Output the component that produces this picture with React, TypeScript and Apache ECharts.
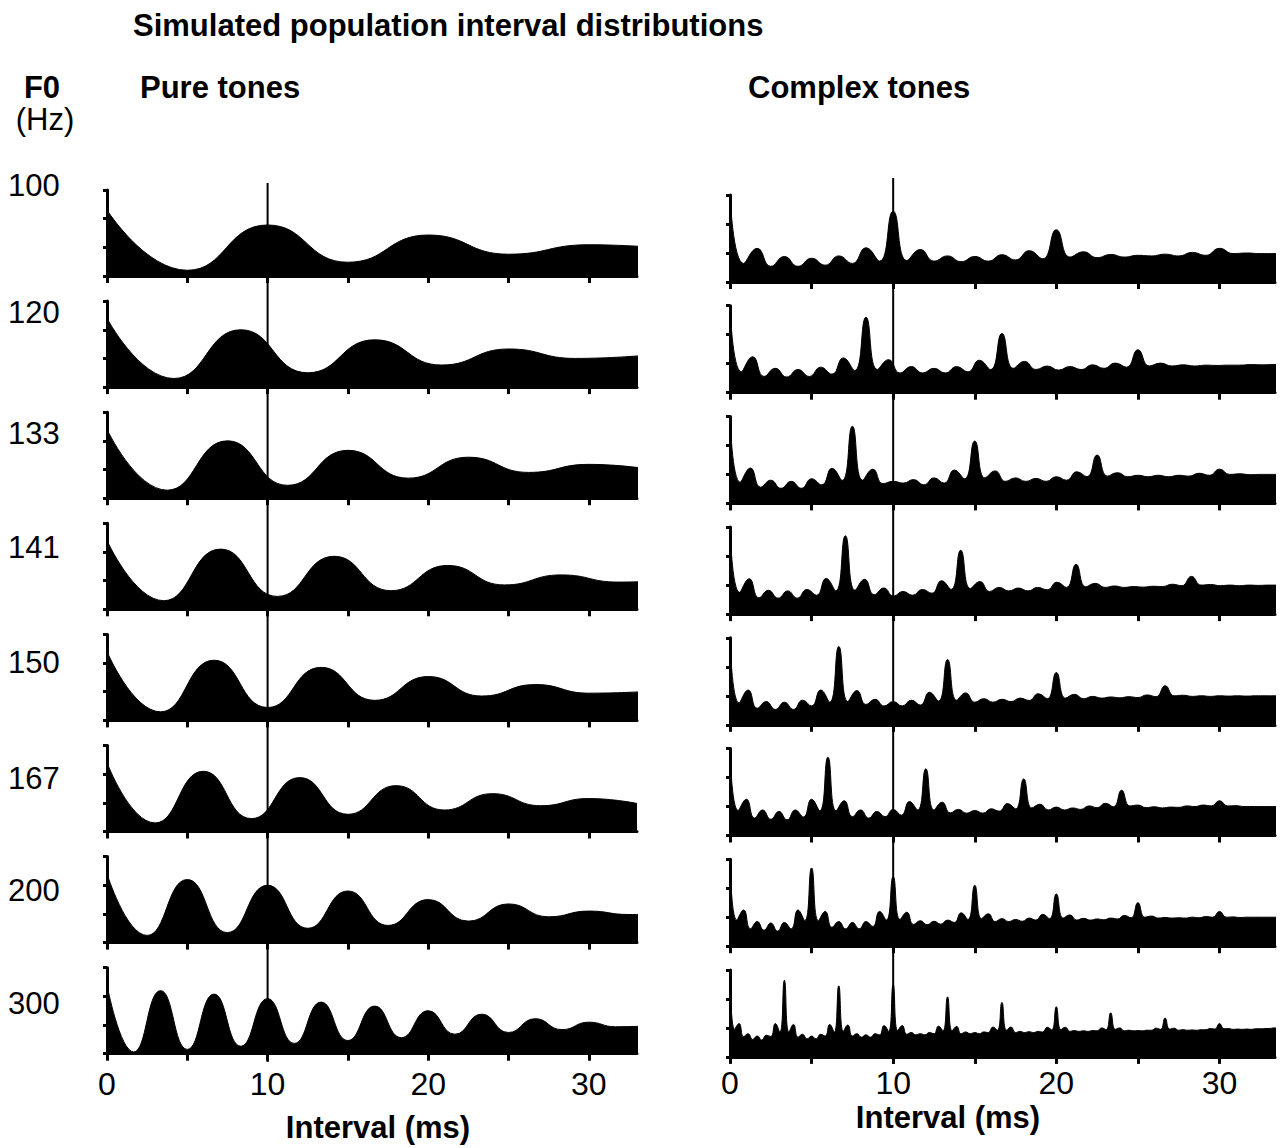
import React, { useEffect, useRef } from "react";
import * as echarts from "echarts";

// ---------------- DATA ----------------
const F0_LABELS = ["100", "120", "133", "141", "150", "167", "200", "300"];
// period of each F0 in ms
const PERIODS_MS = [10, 8.333, 7.5, 7.07, 6.667, 6, 5, 3.333];

// Pure tones: values read at every half period (0, T/2, T, 3T/2, ...)
const PURE_100 = [2.3, 0.2, 1.78, 0.48, 1.43, 0.76, 1.09, 0.96];
const PURE_120 = [2.4, 0.3, 2.0, 0.5, 1.65, 0.77, 1.33, 1.0, 1.1];
const PURE_133 = [2.4, 0.28, 2.0, 0.45, 1.67, 0.7, 1.43, 0.9, 1.18, 1.02];
const PURE_141 = [2.4, 0.3, 2.1, 0.45, 1.85, 0.65, 1.53, 0.85, 1.2, 0.95, 1.0];
const PURE_150 = [2.4, 0.3, 2.1, 0.45, 1.85, 0.7, 1.53, 0.85, 1.25, 0.95, 1.0];
const PURE_167 = [2.4, 0.3, 2.1, 0.45, 1.88, 0.6, 1.6, 0.75, 1.32, 0.9, 1.15, 0.98];
const PURE_200 = [2.4, 0.25, 2.2, 0.35, 2.0, 0.5, 1.8, 0.6, 1.5, 0.75, 1.35, 0.9, 1.1, 0.98, 1.0];
const PURE_300 = [2.4, 0.06, 2.2, 0.15, 2.08, 0.26, 1.92, 0.36, 1.8, 0.46, 1.66, 0.56, 1.5, 0.68, 1.38, 0.74, 1.22, 0.84, 1.1, 0.94, 0.96];

// Complex tones: one row per period, values read at every T/12 step
const COMPLEX_100 = [
  [3.0, 0.64, 1.16, 0.54, 0.88, 0.54, 0.82, 0.58, 0.9, 0.64, 1.18, 0.72],
  [2.44, 0.74, 1.12, 0.72, 0.9, 0.7, 0.88, 0.72, 0.94, 0.76, 1.08, 0.8],
  [1.8, 0.86, 1.04, 0.84, 0.95, 0.86, 0.92, 0.9, 0.96, 0.9, 1.02, 0.92],
  [1.16, 0.98, 1.0, 0.98, 0.98, 0.98],
];
const COMPLEX_120 = [
  [3.0, 0.72, 1.24, 0.56, 0.84, 0.54, 0.8, 0.56, 0.88, 0.64, 1.2, 0.76],
  [2.6, 0.8, 1.14, 0.68, 0.9, 0.68, 0.84, 0.68, 0.9, 0.72, 1.12, 0.8],
  [2.04, 0.84, 1.08, 0.8, 0.92, 0.78, 0.9, 0.8, 0.96, 0.84, 1.02, 0.88],
  [1.48, 0.92, 1.02, 0.92, 0.96, 0.92, 0.95, 0.94, 0.95, 0.95, 0.97, 0.96],
  [0.97, 0.97],
];
const COMPLEX_133 = [
  [3.0, 0.73, 1.22, 0.56, 0.8, 0.52, 0.76, 0.52, 0.85, 0.64, 1.21, 0.79],
  [2.66, 0.8, 1.18, 0.68, 0.76, 0.7, 0.82, 0.64, 0.88, 0.7, 1.15, 0.85],
  [2.15, 0.88, 1.12, 0.76, 0.88, 0.76, 0.86, 0.76, 0.92, 0.8, 1.09, 0.92],
  [1.67, 0.94, 1.06, 0.92, 0.97, 0.92, 0.97, 0.92, 0.97, 0.94, 1.04, 0.97],
  [1.18, 1.0, 1.02, 0.99, 1.0, 1.0, 1.0],
];
const COMPLEX_141 = [
  [3.0, 0.75, 1.22, 0.56, 0.82, 0.55, 0.8, 0.55, 0.85, 0.65, 1.23, 0.8],
  [2.7, 0.82, 1.2, 0.67, 0.9, 0.62, 0.78, 0.65, 0.85, 0.72, 1.15, 0.85],
  [2.2, 0.88, 1.12, 0.78, 0.92, 0.8, 0.9, 0.8, 0.92, 0.84, 1.1, 0.92],
  [1.72, 0.94, 1.06, 0.92, 0.97, 0.92, 0.95, 0.93, 0.96, 0.95, 1.03, 0.98],
  [1.3, 1.0, 1.02, 0.98, 1.0, 0.98, 1.0, 0.99, 1.0, 1.0],
];
const COMPLEX_150 = [
  [3.0, 0.75, 1.2, 0.57, 0.8, 0.53, 0.78, 0.53, 0.85, 0.65, 1.2, 0.78],
  [2.7, 0.8, 1.18, 0.7, 0.88, 0.65, 0.8, 0.65, 0.85, 0.68, 1.12, 0.82],
  [2.25, 0.85, 1.1, 0.78, 0.9, 0.78, 0.88, 0.8, 0.92, 0.84, 1.07, 0.9],
  [1.8, 0.92, 1.05, 0.9, 0.98, 0.92, 0.96, 0.93, 0.97, 0.94, 1.03, 0.97],
  [1.35, 1.0, 1.02, 0.98, 1.0, 0.98, 1.0, 0.99, 1.0, 0.99, 1.0, 1.0],
  [1.0, 1.0],
];
const COMPLEX_167 = [
  [3.0, 0.86, 1.25, 0.6, 0.88, 0.56, 0.83, 0.54, 0.88, 0.64, 1.25, 0.85],
  [2.7, 0.85, 1.2, 0.65, 0.88, 0.6, 0.83, 0.65, 0.9, 0.7, 1.17, 0.88],
  [2.3, 0.88, 1.15, 0.78, 0.9, 0.77, 0.86, 0.77, 0.92, 0.84, 1.1, 0.92],
  [1.95, 0.95, 1.08, 0.88, 0.98, 0.88, 0.95, 0.9, 1.02, 0.96, 1.11, 0.99],
  [1.56, 1.02, 1.05, 0.96, 0.99, 0.95, 0.98, 0.97, 1.02, 1.0, 1.05, 1.02],
  [1.2, 1.02, 1.03, 1.0, 1.0, 1.0, 1.0, 1.0],
];
const COMPLEX_200 = [
  [3.0, 0.9, 1.25, 0.6, 0.85, 0.55, 0.8, 0.52, 0.82, 0.6, 1.25, 0.88],
  [2.7, 0.88, 1.2, 0.65, 0.85, 0.6, 0.82, 0.6, 0.85, 0.68, 1.2, 0.9],
  [2.4, 0.92, 1.17, 0.75, 0.88, 0.74, 0.86, 0.76, 0.9, 0.82, 1.15, 0.92],
  [2.1, 0.95, 1.12, 0.85, 0.95, 0.85, 0.92, 0.86, 0.97, 0.9, 1.1, 0.95],
  [1.8, 0.97, 1.08, 0.9, 0.96, 0.9, 0.94, 0.91, 0.97, 0.94, 1.06, 0.98],
  [1.5, 1.0, 1.04, 0.97, 0.99, 0.97, 0.98, 0.97, 1.0, 0.98, 1.02, 1.0],
  [1.2, 1.0, 1.01, 0.99, 1.0, 1.0, 1.0, 1.0, 1.0, 1.0],
];
const COMPLEX_300 = [
  [3.0, 0.95, 1.15, 0.7, 0.8, 0.6, 0.72, 0.58, 0.75, 0.7, 1.15, 0.85],
  [2.64, 0.85, 1.12, 0.68, 0.78, 0.62, 0.72, 0.62, 0.78, 0.72, 1.12, 0.85],
  [2.45, 0.88, 1.1, 0.72, 0.8, 0.68, 0.76, 0.68, 0.8, 0.76, 1.08, 0.88],
  [2.5, 0.9, 1.08, 0.78, 0.84, 0.76, 0.8, 0.76, 0.84, 0.8, 1.06, 0.9],
  [2.07, 0.9, 1.05, 0.8, 0.86, 0.8, 0.84, 0.8, 0.86, 0.84, 1.03, 0.92],
  [1.88, 0.92, 1.03, 0.84, 0.88, 0.84, 0.87, 0.84, 0.88, 0.86, 1.02, 0.93],
  [1.73, 0.94, 1.02, 0.88, 0.91, 0.88, 0.9, 0.88, 0.91, 0.9, 1.0, 0.94],
  [1.52, 0.95, 1.0, 0.9, 0.92, 0.9, 0.91, 0.9, 0.92, 0.92, 0.99, 0.95],
  [1.34, 0.96, 0.99, 0.92, 0.94, 0.92, 0.93, 0.92, 0.94, 0.94, 0.98, 0.96],
  [1.15, 0.97, 0.98, 0.95, 0.96, 0.95, 0.96, 0.95, 0.97, 0.97, 0.98, 0.98],
  [1.0, 1.0],
];

const PURE = [PURE_100, PURE_120, PURE_133, PURE_141, PURE_150, PURE_167, PURE_200, PURE_300];
const COMPLEX = [COMPLEX_100, COMPLEX_120, COMPLEX_133, COMPLEX_141, COMPLEX_150, COMPLEX_167, COMPLEX_200, COMPLEX_300];

const X_TICKS = [0, 5, 10, 15, 20, 25, 30];
const X_LABELS = [0, 10, 20, 30];
const MARKER_MS = 10;

const TITLE = "Simulated population interval distributions";
const LEFT_TITLE = "Pure tones";
const RIGHT_TITLE = "Complex tones";
const X_NAME = "Interval (ms)";

// ---------------- LAYOUT ----------------
const FONT = '"Liberation Sans", Arial, Helvetica, sans-serif';
const L = { x: 107, w: 530, top: 190, pitch: 111.1, h: 86, xmax: 33, labelMargin: 14 };
const R = { x: 730, w: 545, top: 195, pitch: 110.7, h: 87, xmax: 33.4, labelMargin: 10 };
const ROW_LABEL_Y = [185, 312, 433, 547, 662, 778, 890, 1003];

function buildOption() {
  const grid: any[] = [];
  const xAxis: any[] = [];
  const yAxis: any[] = [];
  const series: any[] = [];

  const addPanel = (cfg: any, row: number, data: number[][]) => {
    const idx = grid.length;
    const isBottom = row === 7;
    grid.push({ left: cfg.x, width: cfg.w, top: cfg.top + cfg.pitch * row, height: cfg.h, containLabel: false });
    xAxis.push({
      gridIndex: idx, type: "value", min: 0, max: cfg.xmax,
      axisLine: { show: true, onZero: false, lineStyle: { color: "#000", width: 3 } },
      axisTick: { show: true, length: 7, customValues: X_TICKS, lineStyle: { color: "#000", width: 3 } },
      axisLabel: {
        show: isBottom, customValues: X_LABELS, color: "#000", fontSize: 32, fontFamily: FONT,
        margin: cfg.labelMargin, formatter: (v: number) => String(v),
      },
      splitLine: { show: false },
    });
    yAxis.push({
      gridIndex: idx, type: "value", min: 0, max: 3, interval: 1,
      axisLine: { show: true, lineStyle: { color: "#000", width: 3 } },
      axisTick: { show: true, length: 4, lineStyle: { color: "#000", width: 3 } },
      axisLabel: { show: false },
      splitLine: { show: false },
    });
    series.push({
      type: "line", xAxisIndex: idx, yAxisIndex: idx, data,
      smooth: 0.5, symbol: "none", silent: true, z: 3,
      lineStyle: { color: "#000", width: 1 },
      areaStyle: { color: "#000", opacity: 1, origin: "start" },
    });
  };

  for (let r = 0; r < 8; r++) {
    const T = PERIODS_MS[r];
    const pure = PURE[r].map((v, k) => [(k * T) / 2, v]);
    addPanel(L, r, pure);
  }
  for (let r = 0; r < 8; r++) {
    const T = PERIODS_MS[r];
    const flat: number[] = ([] as number[]).concat(...COMPLEX[r]);
    const cx = flat.map((v, k) => [(k * T) / 12, v]);
    addPanel(R, r, cx);
  }

  // overlay grids for the 10 ms reference line
  const addMarker = (cfg: any, top: number, bottom: number) => {
    const idx = grid.length;
    grid.push({ left: cfg.x, width: cfg.w, top, height: bottom - top });
    xAxis.push({ gridIndex: idx, type: "value", min: 0, max: cfg.xmax, show: false });
    yAxis.push({ gridIndex: idx, type: "value", min: 0, max: 1, show: false });
    series.push({
      type: "line", xAxisIndex: idx, yAxisIndex: idx, silent: true, z: 5, symbol: "none",
      data: [[MARKER_MS, 0], [MARKER_MS, 1]],
      lineStyle: { color: "#000", width: 2 },
    });
  };
  addMarker(L, 183, 1062);
  addMarker(R, 178, 1064);

  const txt = (text: string, x: number, y: number, size: number, bold: boolean, align = "left") => ({
    type: "text", x, y, silent: true,
    style: {
      text, fill: "#000", fontSize: size, fontWeight: bold ? "bold" : "normal", fontFamily: FONT,
      textAlign: align, textVerticalAlign: "middle",
    },
  });

  const graphic: any[] = [
    txt(TITLE, 133, 25, 31, true),
    txt("F0", 42, 87, 31, true, "center"),
    txt("(Hz)", 45, 119, 31, false, "center"),
    txt(LEFT_TITLE, 140, 87, 31, true),
    txt(RIGHT_TITLE, 748, 87, 31, true),
    txt(X_NAME, 378, 1127, 31, true, "center"),
    txt(X_NAME, 948, 1117, 31, true, "center"),
    ...F0_LABELS.map((s, i) => txt(s, 8, ROW_LABEL_Y[i], 31, false)),
  ];

  return { animation: false, backgroundColor: "#fff", grid, xAxis, yAxis, series, graphic };
}

export default function App() {
  const ref = useRef<HTMLDivElement>(null);
  useEffect(() => {
    if (!ref.current) return;
    const chart = echarts.init(ref.current, undefined, { renderer: "svg" });
    chart.setOption(buildOption() as any);
    return () => chart.dispose();
  }, []);
  return (
    <div
      ref={ref}
      style={{ position: "absolute", left: 0, top: 0, width: 1280, height: 1148, background: "#fff" }}
    />
  );
}
